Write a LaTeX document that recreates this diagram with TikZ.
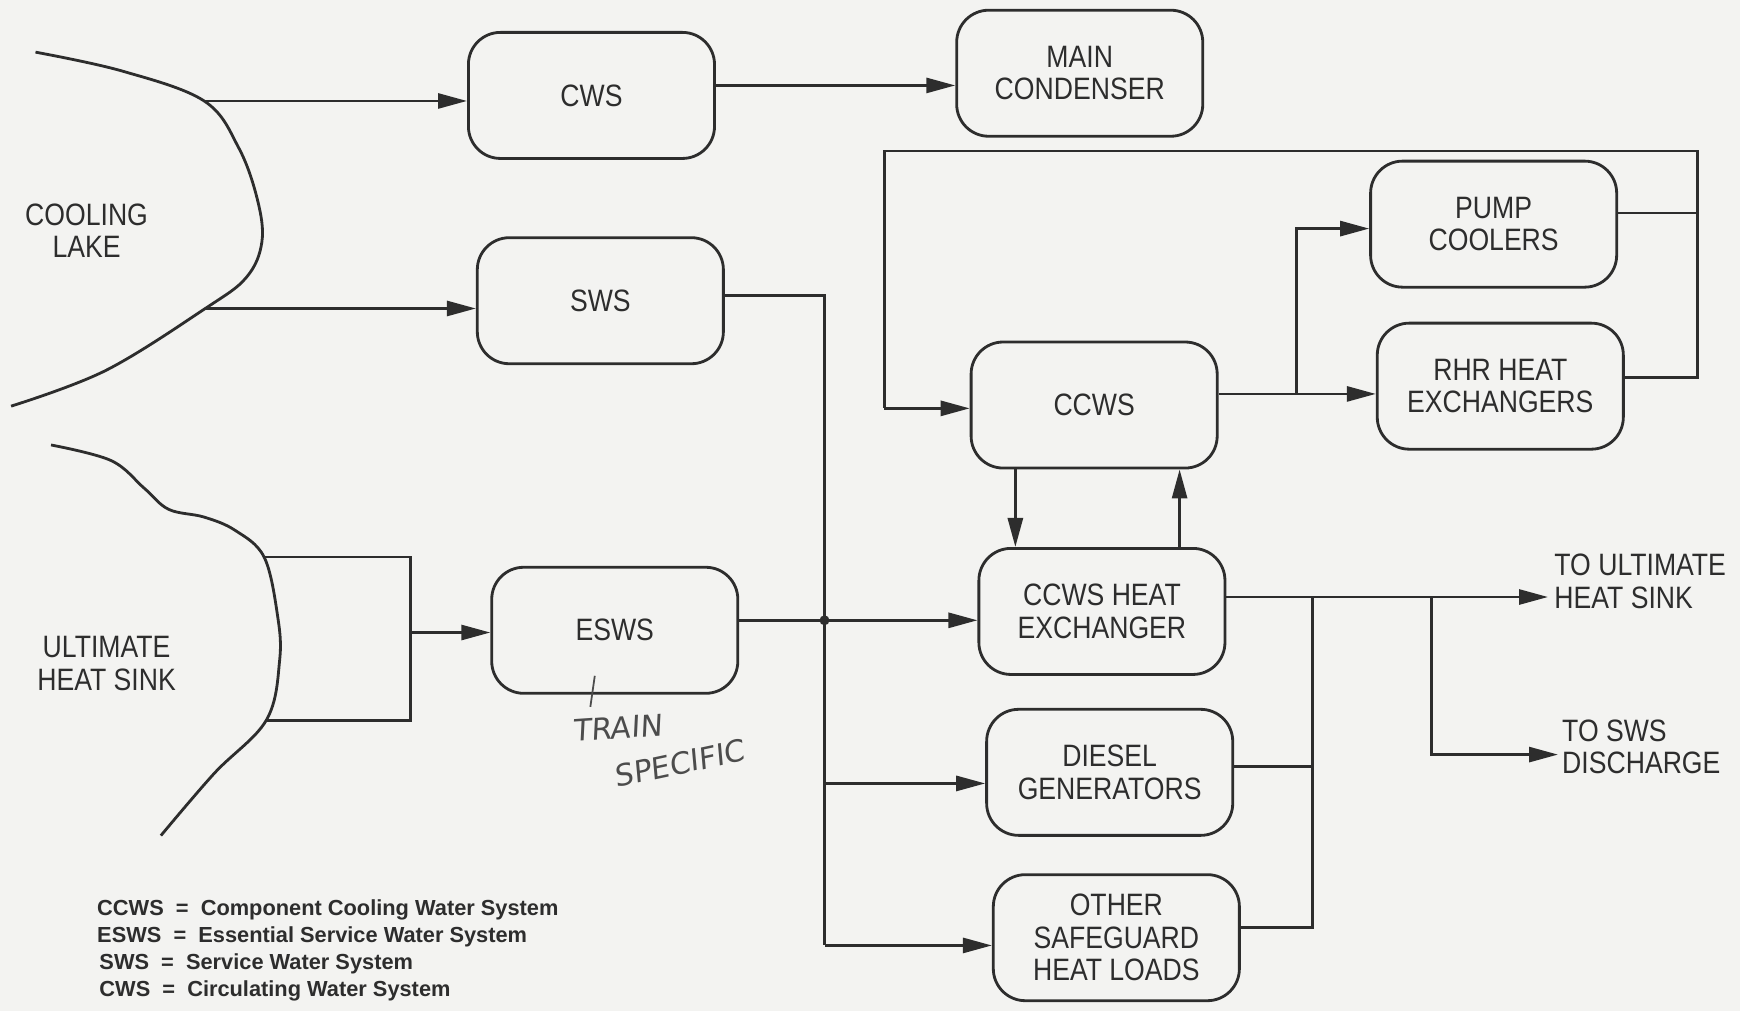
\documentclass[tikz,border=0pt]{standalone}
\usepackage{fontspec}
\setmainfont{Liberation Sans}[FakeStretch=0.86]
\newfontfamily\legendfont{Liberation Sans}
\newfontfamily\handfont{DejaVu Sans}[FakeSlant=0.12]
\usetikzlibrary{arrows.meta}
\definecolor{paper}{RGB}{243,243,241}
\definecolor{ink}{RGB}{45,45,45}
\begin{document}
\begin{tikzpicture}[x=0.011097cm,y=-0.011097cm,
  box/.style={draw=ink, line width=0.8pt, rounded corners=0.32cm,
    minimum width=2.46cm, minimum height=1.26cm, align=center, inner sep=0pt,
    font=\fontsize{8.8}{9.2}\selectfont, text=ink},
  wire/.style={draw=ink, line width=0.8pt},
  arr/.style={wire, -{Triangle[length=2.9mm,width=1.5mm]}},
  lbl/.style={align=center, inner sep=1pt, font=\fontsize{8.8}{9.2}\selectfont, text=ink},
  leg/.style={anchor=west, inner sep=0pt, font=\legendfont\bfseries\fontsize{6.2}{7}\selectfont, text=ink},
  hand/.style={inner sep=0pt, font=\handfont\fontsize{8.5}{9}\selectfont, text=ink!85}]
\fill[paper] (0,0) rectangle (1568,911);
\useasboundingbox (0,0) rectangle (1568,911);

% shorelines
\draw[wire] plot[smooth, tension=0.6] coordinates {(32,47) (110,64) (184,91) (215,133) (232,180) (236,218) (222,250) (185,278) (95,334) (10,366)};
\draw[wire] plot[smooth, tension=0.6] coordinates {(46,401) (100,415) (130,440) (152,459) (184,466) (212,478) (238,502) (250,554) (252,595) (240,649) (193,697) (145,753)};
\node[lbl] (lake) at (78,208) {COOLING\\LAKE};
\node[lbl] (uhs) at (96,598) {ULTIMATE\\HEAT SINK};

% boxes
\node[box] (cws) at (533,86) {CWS};
\node[box] (mc) at (973,66) {MAIN\\CONDENSER};
\node[box] (sws) at (541,271) {SWS};
\node[box] (pump) at (1346,202) {PUMP\\COOLERS};
\node[box] (rhr) at (1352,348) {RHR HEAT\\EXCHANGERS};
\node[box] (ccws) at (986,365) {CCWS};
\node[box] (hx) at (993,551) {CCWS HEAT\\EXCHANGER};
\node[box] (dg) at (1000,696) {DIESEL\\GENERATORS};
\node[box] (other) at (1006,845) {OTHER\\SAFEGUARD\\HEAT LOADS};
\node[box] (esws) at (554,568) {ESWS};

\node[lbl, anchor=west, align=left] (tous) at (1397,524) {TO ULTIMATE\\HEAT SINK};
\node[lbl, anchor=west, align=left] (tosws) at (1404,673) {TO SWS\\DISCHARGE};

% coordinates
\coordinate (lakeA) at (184,91);
\coordinate (lakeB) at (185,278);
\coordinate (c1) at (645,77);
\coordinate (busTop) at (743,266);
\coordinate (j) at (743,559);
\coordinate (jd) at (743,706);
\coordinate (busBot) at (743,852);
\coordinate (lpL) at (797,136);
\coordinate (lpR) at (1530,136);
\coordinate (pr) at (1530,192);
\coordinate (rr) at (1530,340);
\coordinate (cin) at (797,368);
\coordinate (sp) at (1168,355);
\coordinate (spT) at (1168,206);
\coordinate (dn) at (915,450);
\coordinate (up) at (1063,450);
\coordinate (ho) at (1395,538);
\coordinate (b2) at (1290,538);
\coordinate (b2d) at (1290,680);
\coordinate (rc) at (1183,538);
\coordinate (rcd) at (1183,691);
\coordinate (rcb) at (1183,836);
\coordinate (bt) at (238,502);
\coordinate (btr) at (370,502);
\coordinate (bbr) at (370,649);
\coordinate (bb) at (240,649);
\coordinate (ba) at (370,570);
\coordinate (tk1) at (536,609);
\coordinate (tk2) at (532,637);

% connectors
\draw[arr] (lakeA) -- (lakeA -| cws.west);
\draw[arr] (lakeB) -- (lakeB -| sws.west);
\draw[arr] (cws.east |- c1) -- (mc.west |- c1);

\draw[wire] (sws.east |- busTop) -- (busTop) -- (busBot);
\draw[arr] (busBot) -- (busBot -| other.west);
\draw[wire] (esws.east |- j) -- (j);
\draw[arr] (j) -- (j -| hx.west);
\fill[ink] (j) circle (4.5);
\draw[arr] (jd) -- (jd -| dg.west);

\draw[wire] (rhr.east |- rr) -- (rr) -- (lpR) -- (lpL) -- (cin);
\draw[arr] (cin) -- (cin -| ccws.west);
\draw[wire] (pump.east |- pr) -- (pr);

\draw[wire] (ccws.east |- sp) -- (sp);
\draw[arr] (sp) -- (sp -| rhr.west);
\draw[arr] (sp) -- (spT) -- (spT -| pump.west);

\draw[arr] (ccws.south -| dn) -- (hx.north -| dn);
\draw[arr] (hx.north -| up) -- (ccws.south -| up);

\draw[arr] (hx.east |- ho) -- (ho);
\draw[arr] (b2) -- (b2d) -- (b2d -| tosws.west);
\draw[wire] (rc) -- (rcb) -- (rcb -| other.east);
\draw[wire] (dg.east |- rcd) -- (rcd);

\draw[wire] (bt) -- (btr) -- (bbr) -- (bb);
\draw[arr] (ba) -- (ba -| esws.west);

% handwritten note
\draw[draw=ink!85, line width=0.5pt] (tk1) -- (tk2);
\node[hand, rotate=4] (train) at (556,656) {TRAIN};
\node[hand, rotate=12] (spec) at (612,688) {SPECIFIC};

% legend
\node[leg] (lg1) at (87,820) {CCWS \ = \ Component Cooling Water System};
\node[leg] (lg2) at (87,844) {ESWS \ = \ Essential Service Water System};
\node[leg] (lg3) at (89,869) {SWS \ = \ Service Water System};
\node[leg] (lg4) at (89,893) {CWS \ = \ Circulating Water System};
\end{tikzpicture}
\end{document}
